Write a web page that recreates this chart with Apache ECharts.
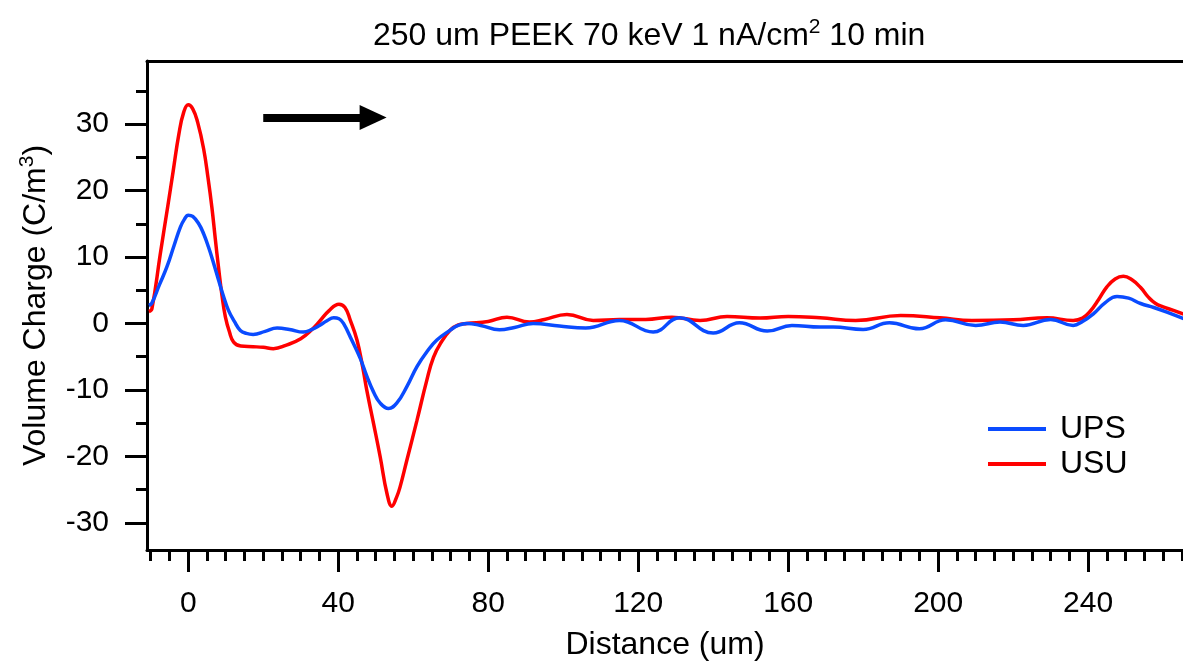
<!DOCTYPE html>
<html>
<head>
<meta charset="utf-8">
<script src="https://cdn.jsdelivr.net/npm/echarts@6/dist/echarts.min.js"></script>
<style>
html,body{margin:0;padding:0;background:#fff;}
#chart{width:1183px;height:666px;}
</style>
</head>
<body>
<div id="chart"></div>
<script>
// ---- data ----
const usuX = [-10.5, -9.7, -7.5, -5.5, -4, -2.5, -1.2, 0, 1.2, 2.5, 4.1, 5.3, 6.3, 7.2, 8.1, 9.0, 9.9, 11, 12.1, 14, 17.3, 20, 22.7, 26, 30, 33, 35, 37.5, 40.2, 41.8, 43.2, 45, 46.5, 47.6, 49.4, 51.2, 53, 54.3, 55.6, 56.5, 58.3, 61, 63.6, 65.4, 67.5, 69.9, 72, 74.3, 80, 85, 91, 95, 101, 108, 115, 122, 129, 136.5, 143.7, 152.5, 160, 168.5, 178, 190, 200.5, 209, 220, 229, 236, 238.5, 240.5, 242.8, 245, 247.2, 249.4, 251.6, 254, 256, 258, 260, 262, 265.5];
const usuY = [1.8, 2.2, 10.3, 17.5, 23, 28.5, 31.8, 32.9, 32.3, 30.3, 26.3, 21.8, 17.5, 12.8, 8.3, 4.2, 1.0, -1.3, -2.8, -3.4, -3.5, -3.6, -3.8, -3.3, -2.3, -0.9, 0.3, 1.9, 2.9, 2.4, 0.5, -2.5, -6.5, -10, -15, -20.1, -25.6, -27.5, -26.1, -24.6, -20.6, -14.6, -8.6, -5.1, -2.8, -1.0, -0.2, 0, 0.3, 0.95, 0.2, 0.6, 1.35, 0.45, 0.6, 0.6, 0.95, 0.45, 1.05, 0.8, 1.05, 0.85, 0.45, 1.2, 0.85, 0.45, 0.55, 0.85, 0.45, 0.8, 1.8, 3.6, 5.5, 6.7, 7.1, 6.6, 5.4, 4.0, 3.0, 2.5, 2.1, 1.4];
const upsX = [-10.5, -9.7, -7.7, -5.7, -3.8, -2.1, -1, 0, 1.2, 2.8, 4.1, 5.4, 6.8, 8.1, 9.4, 10.7, 12.3, 13.9, 15.5, 17.3, 20.5, 23.7, 27, 30.7, 33, 35, 37, 38.8, 40.2, 41.4, 43.6, 45.9, 47.6, 49.4, 51.2, 53.4, 55.6, 58.3, 61, 63.6, 66.3, 69.9, 72, 74.3, 78, 83, 87, 92, 99, 106, 115, 124, 131, 140, 147, 154.4, 161, 168.5, 172, 180, 187, 195, 202, 210, 216.5, 222.7, 230, 236, 238.5, 241.4, 244.5, 247.7, 250.8, 254, 257.5, 261, 265.5];
const upsY = [2.7, 3.06, 5.8, 8.5, 11.7, 14.5, 15.7, 16.3, 16.1, 15, 13.5, 11.5, 9.0, 6.5, 4.1, 2, 0.3, -1.05, -1.5, -1.65, -1.2, -0.7, -0.9, -1.3, -0.9, -0.3, 0.4, 0.85, 0.7, 0, -2.5, -5.3, -7.9, -10.3, -12.0, -12.8, -12.0, -9.5, -6.5, -4.3, -2.5, -1.0, -0.3, 0, -0.3, -0.95, -0.6, 0, -0.4, -0.7, 0.45, -1.3, 0.85, -1.45, 0.1, -1.15, -0.3, -0.55, -0.55, -0.9, 0.1, -0.8, 0.55, -0.3, 0.2, -0.3, 0.6, -0.3, 0.3, 1.45, 3.1, 4.07, 3.8, 3.0, 2.4, 1.7, 0.7];
const seriesNames = ['UPS', 'USU'];
const xMajorTicks = [0, 40, 80, 120, 160, 200, 240];
const xMinorTicks = [-10, -5, 5, 10, 15, 20, 25, 30, 35, 45, 50, 55, 60, 65, 70, 75, 85, 90, 95, 100, 105, 110, 115, 125, 130, 135, 140, 145, 150, 155, 165, 170, 175, 180, 185, 190, 195, 205, 210, 215, 220, 225, 230, 235, 245, 250, 255, 260, 265];
const yMajorTicks = [-30, -20, -10, 0, 10, 20, 30];
const yMinorTicks = [-25, -15, -5, 5, 15, 25, 35];
const arrowFrom = [20, 31];
const arrowTo = [49.3, 31];

const zip = (xs, ys) => xs.map((x, i) => [x, ys[i]]);
const FONT = 'Liberation Sans, Arial, sans-serif';
const xMin = -11, xMax = 265.3, yMin = -34.1, yMax = 39.5;

const chart = echarts.init(document.getElementById('chart'), null, {renderer: 'canvas'});
const axisLineStyle = {color: '#000', width: 3};
const tickLine = {color: '#000', width: 3};

chart.setOption({
  animation: false,
  backgroundColor: '#fff',
  title: {
    text: '250 um PEEK 70 keV 1 nA/cm{sup|2} 10 min',
    left: 368, top: 12,
    textStyle: {
      fontFamily: FONT, fontSize: 32, fontWeight: 'normal', color: '#000',
      lineHeight: 38,
      rich: {sup: {fontFamily: FONT, fontSize: 21, verticalAlign: 'top', lineHeight: 21, color: '#000'}}
    }
  },
  grid: {left: 147, top: 61, right: 0, bottom: 116, containLabel: false},
  legend: {
    data: seriesNames.map(n => ({name: n, icon: 'rect'})),
    orient: 'vertical', left: 983, top: 408,
    itemWidth: 58, itemHeight: 4, itemGap: 3,
    textStyle: {fontFamily: FONT, fontSize: 32, color: '#000', padding: [0, 0, 0, 9]}
  },
  xAxis: [
    {
      type: 'value', position: 'bottom', min: xMin, max: xMax,
      axisLine: {show: true, onZero: false, lineStyle: axisLineStyle},
      axisTick: {show: true, inside: false, length: 22, lineStyle: tickLine, customValues: xMajorTicks},
      axisLabel: {show: true, margin: 39, fontFamily: FONT, fontSize: 30, color: '#000', customValues: xMajorTicks},
      splitLine: {show: false},
      name: 'Distance (um)', nameLocation: 'middle', nameGap: 79,
      nameTextStyle: {fontFamily: FONT, fontSize: 32, color: '#000'}
    },
    {
      type: 'value', position: 'bottom', min: xMin, max: xMax,
      axisLine: {show: false, onZero: false},
      axisTick: {show: true, inside: false, length: 11, lineStyle: tickLine, customValues: xMinorTicks},
      axisLabel: {show: false},
      splitLine: {show: false}
    },
    {
      type: 'value', position: 'top', min: xMin, max: xMax,
      axisLine: {show: true, onZero: false, lineStyle: axisLineStyle},
      axisTick: {show: false}, axisLabel: {show: false}, splitLine: {show: false}
    }
  ],
  yAxis: [
    {
      type: 'value', position: 'left', min: yMin, max: yMax,
      axisLine: {show: true, onZero: false, lineStyle: axisLineStyle},
      axisTick: {show: true, inside: false, length: 22, lineStyle: tickLine, customValues: yMajorTicks},
      axisLabel: {show: true, margin: 38, fontFamily: FONT, fontSize: 30, color: '#000', customValues: yMajorTicks},
      splitLine: {show: false},
      name: 'Volume Charge (C/m{sup|3})', nameLocation: 'middle', nameGap: 88,
      nameTextStyle: {
        fontFamily: FONT, fontSize: 32, color: '#000', lineHeight: 38,
        rich: {sup: {fontFamily: FONT, fontSize: 21, verticalAlign: 'top', lineHeight: 21, color: '#000'}}
      }
    },
    {
      type: 'value', position: 'left', min: yMin, max: yMax,
      axisLine: {show: false, onZero: false},
      axisTick: {show: true, inside: false, length: 11, lineStyle: tickLine, customValues: yMinorTicks},
      axisLabel: {show: false},
      splitLine: {show: false}
    }
  ],
  series: [
    {
      name: seriesNames[0], type: 'line', xAxisIndex: 0, yAxisIndex: 0,
      data: zip(upsX, upsY), smooth: 0.45, symbol: 'none', showSymbol: false,
      lineStyle: {color: '#0A4BFF', width: 3.5}, itemStyle: {color: '#0A4BFF'},
      z: 3
    },
    {
      name: seriesNames[1], type: 'line', xAxisIndex: 0, yAxisIndex: 0,
      data: zip(usuX, usuY), smooth: 0.45, symbol: 'none', showSymbol: false,
      lineStyle: {color: '#FF0000', width: 3.5}, itemStyle: {color: '#FF0000'},
      z: 2,
      markLine: {
        silent: true, symbol: ['none', 'triangle'], symbolSize: [25, 27],
        lineStyle: {color: '#000', width: 8, type: 'solid'},
        itemStyle: {color: '#000'},
        label: {show: false},
        data: [[{coord: arrowFrom}, {coord: arrowTo}]]
      }
    }
  ]
});
</script>
</body>
</html>
